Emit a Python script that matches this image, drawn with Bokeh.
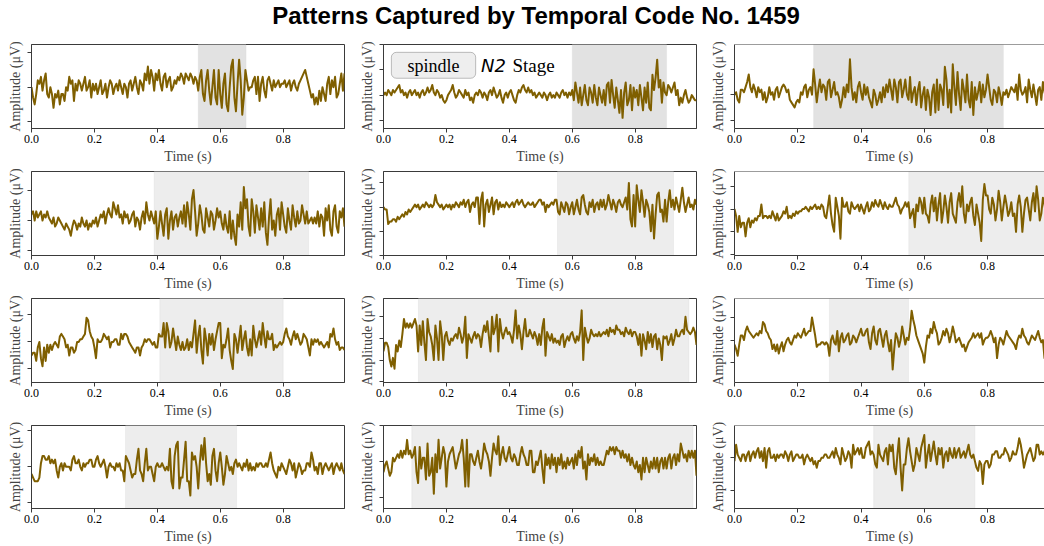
import numpy as np
from bokeh.plotting import figure
from bokeh.layouts import column, row
from bokeh.models import BoxAnnotation, FixedTicker, Label, Range1d, PrintfTickFormatter, Span
from bokeh.embed import file_html
from bokeh.resources import INLINE

TITLE = "Patterns Captured by Temporal Code No. 1459"
X_LABEL = "Time (s)"
Y_LABEL = "Amplitude (\u03bcV)"
SAMPLE_RATE = 200
X_TICKS = [0.0, 0.2, 0.4, 0.6, 0.8]

# amplitude samples, tenths of one y-tick step, 200 samples per pattern
sig_1 = [0, -3, -5, -2, 2, 1, 3, -1, 2, 4, -2, -3, 0, -2, -6, -2, -3, -1, -5, -2,
         -2, -4, 0, -1, 3, 1, 2, -4, 1, -1, 2, 1, -1, 1, 3, -1, 0, 2, -3, 1,
         -1, 1, -2, 0, 2, -2, -1, 1, -3, 0, 2, 1, -2, 0, 1, -1, 2, 0, -2, 1,
         0, -3, 1, 2, -1, 1, 3, 0, -2, 2, 1, -1, 4, 2, 6, 1, 5, 3, -1, 4,
         2, 5, 1, -1, 3, 4, 0, 2, 3, -1, 0, 2, 1, 3, 2, 4, 3, 1, 4, 3,
         2, 4, 3, 1, 3, 2, -1, 3, 5, -2, -4, 2, 5, -1, -5, 0, 5, -3, -5, 5,
         -2, -6, 1, 4, -5, -7, 0, 6, 8, -3, -7, 1, 8, 2, -8, -3, 5, 2, -1, 0,
         0, 2, 3, -2, 3, -4, 1, 3, -1, -3, 2, 3, 1, -1, 2, 0, 1, 2, 0, 1,
         1, 2, 0, 1, 2, -1, 1, 2, 0, -1, 1, 2, 3, 4, 5, 3, 1, -1, -3, -2,
         -5, -3, -5, -1, -4, 0, -2, -4, 1, 3, -2, 2, 0, 3, -3, -2, 1, 4, -1, 4]
sig_2 = [0, 1, 0, 2, 1, 0, 2, 1, 2, 3, 4, 1, 2, 0, 1, -1, 1, 2, 0, 1,
         2, 0, 1, -1, 1, 2, 0, 1, 3, 1, 2, 4, 1, 0, 2, 1, -1, 0, -2, -3,
         -2, 0, 1, 2, 4, 1, -1, 0, 2, 1, 0, -1, 2, 0, 1, -2, -1, -3, 0, 1,
         0, 2, 1, -1, 1, 0, -2, 1, 2, 0, 3, 1, -1, 0, 2, -1, -3, 0, 1, -1,
         1, 2, 0, -2, -3, 0, 2, 1, 3, 4, 2, 1, 3, 1, 2, 0, 1, -1, 0, 1,
         0, -1, 1, 0, -2, 0, 1, -1, 0, -1, 1, 0, -1, 1, 2, 0, 1, -1, 1, 0,
         2, -2, 5, 1, -3, 3, -4, 0, 4, -2, -4, 3, 1, -3, 4, -1, -4, 3, 0, -3,
         2, -4, 4, 5, -3, 6, 0, -5, 3, -2, -7, 2, -9, 1, 5, -4, -2, 4, -6, 3,
         -1, 2, -4, 4, -1, -6, 3, -3, 5, -5, -6, 8, 2, 7, 14, 3, 6, -3, 5, 1,
         0, 4, 3, 1, 3, 5, 0, 2, -4, -1, -3, 0, 2, -1, -3, -2, 0, -1, -2, -2]
sig_3 = [0, 1, -2, -3, 2, 2, 1, 3, 5, 8, 3, 1, 4, 2, -1, 3, 1, 2, -2, 1,
         -3, -1, 3, 0, 1, -2, 2, 3, -1, 1, 3, 4, 3, 1, 2, -2, -3, -4, -5, -3,
         -2, -3, 1, 0, 3, 4, -1, 2, 3, 0, 10, 4, -3, 2, 6, 1, 4, 3, -2, 5,
         6, -1, 2, 5, 0, 1, -1, -5, -2, 3, -1, 4, 1, 14, 3, -2, 1, -3, 3, 5,
         1, -2, 4, 0, 3, -1, -3, -5, 2, 0, -4, -2, 1, -3, 3, -1, 4, 1, 6, 2,
         -2, 6, 3, -3, 5, 6, -1, 2, 6, 0, -2, 7, -3, 1, 3, -4, 2, 5, -5, 0,
         3, -6, 2, -1, -8, 1, 4, -7, 6, -6, 4, 2, -4, 11, 6, -5, 2, -7, 12, 3,
         -4, 9, 0, -6, 6, 2, -3, 8, -2, -5, 5, -8, 3, -2, 1, 5, -3, 4, -1, 2,
         8, 3, -2, -4, 2, 1, -3, 3, 0, -4, 1, 0, 2, -1, 1, 3, 2, 1, 4, -2,
         8, 2, 0, 1, 3, -3, 6, 2, -1, 4, 0, -4, 2, 3, -2, 5, 1, -1, 2, 0]
sig_4 = [2, 3, 0, 3, 1, 2, 3, 0, 2, 1, 3, 1, 0, -1, 1, -2, -1, 1, 0, -1,
         -2, -3, -1, -2, -3, -5, -2, 0, -1, -3, -1, -2, 1, -1, -2, 0, -3, -1, -2, 0,
         -1, 1, -2, 0, 2, 1, 3, -1, 2, 4, 2, 1, 6, 4, 2, 5, 1, 2, -1, 3,
         1, 2, -1, 0, 2, 3, -2, 1, 0, -3, 1, 3, -1, 6, 2, 0, 3, 1, -1, 3,
         -6, -2, 3, -1, -5, 2, 4, -6, 0, 3, -3, 1, 2, -2, 1, 3, -1, 5, -2, 6,
         2, -3, 7, 10, 3, -5, -1, 5, 2, -3, -4, 4, 1, -2, 3, 2, -3, 0, 4, 1,
         3, -1, -3, 2, -2, -4, 3, -6, 0, -5, -8, 2, -2, 6, -3, 11, 4, 7, -2, -5,
         7, 3, -4, 5, 1, -3, 4, -2, 6, -4, -8, 1, 7, -3, 0, -5, 2, 4, -3, 6,
         2, -2, -4, 4, 0, -3, 5, 1, -2, 3, -1, 0, 5, 2, -1, 3, -1, 0, 1, -1,
         1, -1, 3, -2, 2, 1, -5, 4, 0, 5, -3, -5, 3, 5, -2, -4, 3, 1, 4, -2]
sig_5 = [0, -1, -1, -7, -6, -6, -5, -5, -6, -4, -5, -4, -3, -4, -2, -3, -1, -2, -1, 0,
         1, 0, 1, -1, 0, 1, 0, 2, 1, 0, 1, 0, 1, 5, 2, 1, 0, 1, -1, 0,
         1, 0, 1, -1, 1, 0, 2, 1, 0, 2, 1, 3, 0, 2, 3, -2, 1, 2, 0, 4,
         4, -7, 3, 6, -8, 1, 3, -2, 1, 4, -3, 2, 3, -1, 2, 0, 1, 0, 2, 1,
         0, 1, 2, 0, 2, 3, 1, 2, 3, 1, 0, 1, 2, 1, 1, 2, 0, 1, 2, 3,
         3, 1, 2, -2, 1, 0, 1, 2, 1, 3, 3, -2, -3, 2, 0, -2, 2, 1, -3, 0,
         2, -3, 0, 3, -1, -3, 4, 5, 1, -2, -3, 2, 0, 3, -2, 1, 2, -1, 3, 0,
         3, -1, 1, 5, 2, -1, 3, 1, -2, 2, 3, 1, 0, 2, 4, -1, 10, -5, -8, 5,
         -8, 9, 3, -2, 7, 2, -4, 3, 1, -2, -10, 1, -13, -3, 5, 6, -2, -1, -6, 3,
         -6, 2, 7, 0, 3, -1, 4, 1, -2, 3, 8, 2, -2, 1, 4, 0, 1, -1, 3, 1]
sig_6 = [0, -3, -10, -3, -8, -6, -6, -12, -6, -4, -8, -5, -6, -4, -5, -3, -3, 2, -4, -3,
         -3, -4, -3, -4, -1, -3, -5, -2, -5, -4, -3, -1, -2, 1, -4, -3, -4, -2, -3, -1,
         -2, -1, -1, 0, 0, 1, 0, -1, 1, 0, 1, 2, 0, 1, 0, 2, 1, -3, -4, 1,
         6, -2, -7, -10, 5, 1, -3, -13, 5, 1, 1, 3, -1, -2, 3, 1, 0, 1, 2, -1,
         2, 0, -2, 1, 3, -1, 0, 3, 1, 4, 2, 1, 4, 2, 0, 3, 1, 0, 2, 1,
         1, 3, 5, 2, 1, -2, 0, 1, 3, 1, 3, -4, -2, 0, -8, 2, -1, 5, 3, -2,
         5, -2, -3, -6, 2, 6, -1, 5, -5, 2, 7, -6, -1, 6, 1, -6, 3, 7, -2, -4,
         -6, 3, 7, 1, 10, -2, -6, 2, -1, 3, 5, -3, -7, 2, -2, -6, -14, 4, 11, 6,
         6, 0, -2, 5, 2, -5, 0, 8, 3, -5, 1, 6, 2, -3, -1, 3, -3, -2, -10, 2,
         6, 1, -10, -2, 4, 5, 0, -5, 3, 7, -1, 10, 4, -5, -2, 5, 2, -3, 5, 1]
sig_7 = [-5, -4, -4, -7, -2, 0, -6, -9, -2, -7, -1, -4, -1, -3, -1, 0, -1, -2, 2, 3,
         2, 1, -2, -1, -5, -2, -2, -4, -3, 0, 0, 1, 1, 2, 3, 9, 8, 4, 2, 1,
         -2, -6, 1, 0, 0, 1, 3, 2, 1, 2, -2, 0, 0, 1, 1, -1, -1, 3, 1, 3,
         3, 2, 0, -1, -2, -3, -4, -2, -2, -5, -2, -1, 1, 0, 1, 1, 0, -1, 0, -2,
         -2, 3, 2, 2, 7, -2, 7, 4, -2, 0, 5, 1, -3, 2, -1, -3, 0, -3, -2, 1,
         -3, 0, -2, 3, 8, -4, 2, 6, -3, -8, 5, 1, -5, 3, -1, 3, -3, 1, 4, 7,
         7, -6, -1, -2, 1, 5, -3, -7, -10, 3, 1, -4, 1, 6, -3, 1, 4, -2, -5, 1,
         -5, 6, 1, -2, 1, 4, -1, 7, 2, -2, 4, 1, 1, 3, -3, -1, -2, -1, 0, -1,
         0, 3, 5, 2, 1, -1, 2, 4, 1, 3, 1, -1, 0, 3, 2, 1, -2, -5, 1, -1,
         1, 0, 1, -1, 0, -1, -2, -1, 0, -2, 3, 2, 5, 1, -1, 0, -3, -2, -2, -3]
sig_8 = [-6, -2, -2, -4, -10, -13, -9, -14, -3, -6, -1, -4, 2, 9, 5, 7, 5, 7, 5, 7,
         9, 6, -6, 6, -3, 8, -2, -10, 9, 3, 1, -3, -10, 6, 0, -10, 8, 2, -10, 1,
         3, -1, -3, 0, -1, 1, 2, 0, 5, 2, -2, 1, 10, -9, 2, 0, -2, 1, 3, 0,
         2, 1, -4, 2, 6, 3, 8, 1, -6, 10, 2, 5, 11, -6, 9, 3, 0, 3, 5, 2,
         3, 1, -2, 4, 13, 0, 6, 2, -5, 3, 9, 1, 1, 4, 2, 0, 3, 1, -3, 2,
         -3, 5, 9, -8, 3, 1, -1, 2, -2, 0, -2, -1, -3, 1, 2, -4, -1, 1, -1, 2,
         3, 0, -2, 1, -1, 3, 13, -10, 5, 1, -2, 0, 4, 2, 1, 2, 1, 3, 1, 2,
         3, 2, 4, 1, 5, 3, 4, 2, 6, 4, 4, 2, 3, 1, 5, 3, 2, 4, 1, 3,
         3, 1, -3, 2, -8, 2, -1, -5, 3, -2, 2, -4, 1, 2, -5, 0, -3, -10, 1, 0,
         1, -3, -1, 2, -3, 0, 4, 1, 1, 3, 4, 2, 10, 4, 3, 2, 3, 5, 3, -3]
sig_9 = [-2, -4, -7, -2, 2, 2, 0, 4, 6, 4, 3, 2, 1, 2, 3, 2, 4, 3, 8, 7,
         4, 3, 1, 0, -4, -2, -5, -2, -6, -3, -1, -5, -2, 0, 1, -1, -2, 0, 2, 1,
         3, 2, 1, 3, 5, 2, 3, 4, 4, 10, 6, 2, -3, -2, -2, -1, -1, -2, -1, -2,
         -7, 0, 2, -1, -2, 4, -5, 1, 3, -1, 0, 2, 3, -2, -1, 2, 1, -1, 1, 3,
         5, 2, 2, 4, 5, -1, -4, 3, 6, 0, -2, 4, 5, 1, -3, 2, 4, -1, -5, 0,
         -13, -4, 3, 1, -3, 0, 6, 2, -2, 1, 0, 5, 13, 9, 6, 2, 0, -2, -4, -6,
         -10, -3, 2, 1, 5, 3, 8, 5, 3, -2, -1, 1, 4, 2, 5, 3, -1, 2, 6, 3,
         -1, 0, 1, -1, -3, -2, -5, -3, -1, 0, 1, 3, 1, 2, 3, 1, 3, -2, 0, 1,
         1, 2, 4, 2, -1, 1, -8, -2, 1, 0, -2, 1, 4, 2, 1, 0, -1, -2, -4, 0,
         2, 1, 5, 2, 1, -1, -2, 0, 2, 1, 0, 2, 4, 1, -1, 0, -8, -3, -2, 0]
sig_10 = [-2, -3, -4, -4, -4, -3, 1, 3, 3, 2, 2, 3, 1, 2, 1, 2, -1, -3, 0, 1,
          -1, 1, 0, 0, 0, -1, 2, 3, 1, 1, 2, 0, -1, 1, 0, 1, 1, 2, 2, 0,
          0, 2, 3, 1, 0, 1, 2, 0, -3, 0, 1, 0, 0, -1, 1, 0, 1, -1, -1, -4,
          3, 2, 1, -1, -3, -2, -2, 2, 5, -1, -2, -4, 1, 5, -1, 0, 0, -2, -4, 0,
          1, 0, 0, 1, 0, -1, 0, -1, 5, -4, -6, 3, 6, 7, -6, -3, -3, 2, 7, -4,
          -4, -8, 4, 2, 3, 0, -6, 1, 6, 2, 8, 1, -4, -2, -5, 3, 5, -1, -4, 1,
          4, 0, -5, -2, 3, 1, -1, 0, -2, 1, 2, 0, 1, 0, -1, 1, 0, 2, -1, 1,
          -1, 0, -1, 1, 0, 1, 1, 0, 0, 1, 0, 2, 4, 1, -1, -2, -3, 0, -1, 1,
          0, -1, -2, 0, 2, 1, -1, 1, -3, -1, 1, 0, -2, -1, -1, 1, 1, 0, 4, 2,
          -1, 0, -2, 1, 1, -2, 0, 1, 0, -1, 0, 1, -2, 0, 1, 0, -1, 1, -1, -2]
sig_11 = [-3, -1, 0, -2, -4, -3, 1, 0, 1, 2, 1, 3, 1, 3, 2, 6, 2, 3, 1, 2,
          4, -3, -6, 4, -2, 1, 1, -5, 5, -4, -3, 1, -9, 2, -3, 6, -2, 1, 4, 2,
          -7, 0, 2, 3, 4, 1, -2, 0, 2, 3, 6, 1, -7, 6, -7, 2, 2, 0, -1, 1,
          3, 0, -2, 1, 5, 3, 2, 0, -4, 1, 5, 3, 2, 7, -1, 2, 4, 1, 0, 2,
          4, 1, 0, 2, 1, -1, -1, 2, 4, 2, 1, -1, -1, 3, 3, -3, -3, 0, -1, 1,
          3, -2, -6, 2, -1, 1, -2, 2, -1, 1, -3, 1, -1, 2, -2, 0, -2, 1, -1, 0,
          1, -2, 2, -1, 3, 1, 4, -2, 0, -5, 2, -1, 1, 0, 2, -1, 1, -1, 0, -1,
          -1, 1, 3, 2, 4, 3, 4, 2, 4, 3, 3, 1, 3, 1, 2, 0, 2, -1, 1, -1,
          -2, 0, -3, -1, -5, 1, -3, 1, -1, -3, 0, -2, 1, -2, 1, -3, 0, 1, -2, 1,
          -2, 1, 2, -2, 1, 2, -1, 2, 0, 5, 3, 1, 2, 0, 3, 1, 3, 1, 3, -4]
sig_12 = [-1, 4, 1, 0, -1, 1, 1, -1, 1, 2, -1, 1, 2, 0, 2, 3, 0, 2, -1, 3,
          -3, 2, 3, 0, 0, 1, -1, 1, 0, 1, 1, 0, 2, 1, -1, 1, 2, -1, 0, 1,
          1, 0, 0, 1, -2, 0, 1, 0, -1, 0, -2, -1, -3, -1, -1, 0, 0, 1, 1, 0,
          0, 1, 2, 0, 3, 1, 0, -2, 3, 1, -1, 0, 2, 1, -3, 4, 1, 2, 3, 1,
          3, 0, 0, 3, 4, 5, 1, 2, 1, -2, -3, 4, 1, 0, -1, 2, 3, -2, 4, 2,
          4, -3, -5, 1, 6, -3, -10, -2, -2, 3, 6, 2, -1, -4, -2, 3, 1, -1, 3, 5,
          7, -3, 1, 4, -1, 2, 5, 1, -2, 3, 1, 3, -3, 1, 2, -1, 3, 1, 0, 3,
          0, 2, 3, 0, 1, 2, 0, 2, 4, 1, 0, 1, -1, -3, -4, -1, -2, -8, -2, -1,
          -1, -3, -2, 1, 1, 2, 2, 0, 0, 1, 1, 3, 2, 1, -1, 0, 2, 1, 1, 3,
          6, 4, 1, -3, -1, 1, 2, 3, 1, -1, 0, 4, 4, 1, 2, 1, 2, 3, 2, 1]

signals = [sig_1, sig_2, sig_3, sig_4, sig_5, sig_6,
           sig_7, sig_8, sig_9, sig_10, sig_11, sig_12]

# highlighted (pattern) intervals, seconds
shade_start = [0.53, 0.60, 0.25, 0.39, 0.553, 0.551, 0.408, 0.111, 0.30, 0.299, 0.09, 0.44]
shade_end = [0.682, 0.90, 0.85, 0.881, 0.922, 1.0, 0.80, 0.971, 0.55, 0.652, 0.984, 0.76]

# y-axis extents (in tick steps) and tick positions per panel
y_low = [-1.20, -1.32, -1.33, -1.15, -2.0, -2.04, -1.50, -2.04, -1.88, -1.16, -1.31, -1.55]
y_high = [1.24, 2.0, 1.98, 1.61, 1.47, 1.65, 1.61, 1.85, 1.84, 1.15, 1.0, 0.99]
y_ticks = [[-1, 0, 1], [-1, 0, 1, 2], [-1, 0, 1], [-1, 0, 1], [-2, -1, 0, 1], [-2, -1, 0, 1],
           [-1, 0, 1], [-2, -1, 0, 1], [-1, 0, 1], [-1, 0, 1], [-1, 0, 1], [-1, 0]]

LINE_COLOR = "#7f5f00"
SERIF = "Liberation Serif"
FRAME = "#3a3a3a"

COL_W = [352, 351, 341]
PLOT_W = [313, 313, 310]
X_END = [0.995, 0.995, 0.98]
ROW_H = [127, 127, 127, 125]


def make_panel(i):
    r, c = divmod(i, 3)
    top = 2 if c == 2 else 4
    h = ROW_H[r]
    bottom = h - top - 86
    p = figure(width=COL_W[c], height=h, output_backend="svg", toolbar_location=None,
               x_range=Range1d(0, X_END[c]), y_range=Range1d(y_low[i], y_high[i]),
               min_border_left=31, min_border_right=COL_W[c] - 31 - PLOT_W[c],
               min_border_top=top, min_border_bottom=bottom)
    p.xgrid.visible = False
    p.ygrid.visible = False
    p.background_fill_color = "white"
    p.border_fill_color = "white"
    if c == 2:
        p.outline_line_color = None
        p.add_layout(Span(location=y_high[i], dimension="width", line_color=FRAME, line_width=1))
    else:
        p.outline_line_color = FRAME
        p.outline_line_width = 1

    shade_col = "#e2e2e2" if r == 0 else "#ededed"
    p.add_layout(BoxAnnotation(left=shade_start[i], right=shade_end[i], fill_color=shade_col,
                               fill_alpha=1.0, line_color="#d4d4d4", line_width=1,
                               level="underlay"))

    y = np.array(signals[i], dtype=float) / 10.0
    t = np.arange(len(y)) / SAMPLE_RATE
    p.line(t, y, line_color=LINE_COLOR, line_width=2, line_join="round")

    xa = p.xaxis[0]
    xa.ticker = FixedTicker(ticks=X_TICKS)
    xa.formatter = PrintfTickFormatter(format="%.1f")
    xa.minor_tick_line_color = None
    xa.major_tick_out = 4
    xa.major_tick_in = 0
    xa.major_label_standoff = 2
    xa.major_label_text_font = SERIF
    xa.major_label_text_font_size = "12px"
    xa.major_label_text_color = "black"
    xa.axis_label = X_LABEL
    xa.axis_label_text_font = SERIF
    xa.axis_label_text_font_size = "14px"
    xa.axis_label_text_font_style = "normal"
    xa.axis_label_standoff = 3
    xa.axis_line_color = FRAME
    xa.major_tick_line_color = FRAME

    ya = p.yaxis[0]
    ya.ticker = FixedTicker(ticks=y_ticks[i])
    ya.major_label_overrides = {tk: "" for tk in y_ticks[i]}
    ya.minor_tick_line_color = None
    ya.major_tick_out = 4
    ya.major_tick_in = 0
    ya.major_label_text_font = SERIF
    ya.major_label_text_font_size = "12px"
    ya.major_label_standoff = 0
    ya.axis_label = Y_LABEL
    ya.axis_label_text_font = SERIF
    ya.axis_label_text_font_size = "14px"
    ya.axis_label_text_font_style = "normal"
    ya.axis_label_standoff = 5
    ya.axis_line_color = FRAME
    ya.major_tick_line_color = FRAME

    if i == 1:
        p.add_layout(BoxAnnotation(left=0.025, right=0.293, bottom=0.665, top=1.69,
                                   fill_color="#eeeeee", fill_alpha=1.0, line_color="#333333",
                                   line_width=1, border_radius=5))
        p.add_layout(Label(x=0.159, y=1.17, text="spindle", text_align="center",
                           text_baseline="middle", text_font=SERIF, text_font_size="18px",
                           text_color="black"))
        p.add_layout(Label(x=0.31, y=1.17, text="N2", text_align="left",
                           text_baseline="middle", text_font="DejaVu Sans",
                           text_font_style="italic", text_font_size="18px", text_color="black"))
        p.add_layout(Label(x=0.41, y=1.17, text="Stage", text_align="left",
                           text_baseline="middle", text_font=SERIF, text_font_size="19px",
                           text_color="black"))
    return p


title_fig = figure(width=1044, height=40, output_backend="svg", toolbar_location=None,
                   x_range=Range1d(0, 1), y_range=Range1d(0, 1), min_border=0)
title_fig.axis.visible = False
title_fig.grid.visible = False
title_fig.outline_line_color = None
title_fig.add_layout(Label(x=0.513, y=0.63, text=TITLE, text_align="center", text_baseline="middle",
                           text_font="Liberation Sans", text_font_style="bold",
                           text_font_size="24px", text_color="black"))

panels = [make_panel(i) for i in range(12)]
rows = [row(*panels[3 * r:3 * r + 3]) for r in range(4)]
layout = column(title_fig, *rows)

open("out.html", "w").write(file_html(layout, INLINE))
